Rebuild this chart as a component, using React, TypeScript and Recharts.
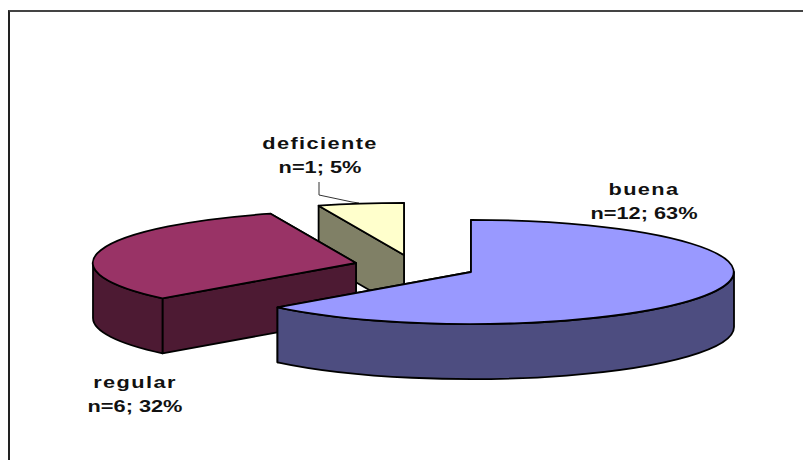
import { PieChart, Pie } from 'recharts';

const categories = ['deficiente', 'regular', 'buena'];
const counts = [1, 6, 12];
const percentLabels = ['n=1; 5%', 'n=6; 32%', 'n=12; 63%'];

const topColors = ['#FFFFCC', '#993366', '#9999FF'];
const wallColors = ['#808066', '#4D1A33', '#4D4D80'];

// how far each slice is pulled off the pie centre
const explodeX = [-67, -115, 0];
const explodeY = [-17, -9, 0];

const labelX = [320, 135, 644];
const labelY = [149, 388, 195];

const tableData = categories.map((name, i) => ({ name, value: counts[i] }));

const SQUASH = 0.198;
const DEPTH = 55;
const RAD = Math.PI / 180;
const TEXT_STRETCH = 1.28;

const pt = (cx: number, cy: number, r: number, angle: number, drop = 0) =>
  `${(cx + r * Math.cos(angle * RAD)).toFixed(1)} ${(cy - r * SQUASH * Math.sin(angle * RAD) + drop).toFixed(1)}`;

// Slice as a tilted disc: cut faces, front rim, then the flat top
const Slice3D = (props: any) => {
  const { cx, cy, outerRadius: r, startAngle, endAngle, index } = props;
  const x = cx + explodeX[index];
  const y = cy + explodeY[index];
  const rx = r;
  const ry = r * SQUASH;
  const a0 = Math.min(startAngle, endAngle);
  const a1 = Math.max(startAngle, endAngle);
  const large = a1 - a0 > 180 ? 1 : 0;
  const wall = wallColors[index];

  const walls: string[] = [];
  // cut faces from the centre out to each radius end
  [a0, a1].forEach((a) => {
    walls.push(`M${pt(x, y, 0, a)} L${pt(x, y, r, a)} L${pt(x, y, r, a, DEPTH)} L${pt(x, y, 0, a, DEPTH)} Z`);
  });
  // the rim only shows on the front half, angles 180 to 360
  for (const k of [0, 360]) {
    const f0 = Math.max(a0, 180 + k);
    const f1 = Math.min(a1, 360 + k);
    if (f1 > f0) {
      walls.push(
        `M${pt(x, y, r, f0)} A${rx} ${ry} 0 0 0 ${pt(x, y, r, f1)} L${pt(x, y, r, f1, DEPTH)} A${rx} ${ry} 0 0 1 ${pt(x, y, r, f0, DEPTH)} Z`
      );
    }
  }

  return (
    <g>
      {walls.map((d, i) => (
        <path key={i} d={d} fill={wall} stroke="#000" strokeWidth={1.8} strokeLinejoin="round" />
      ))}
      <path
        d={`M${pt(x, y, 0, a0)} L${pt(x, y, r, a0)} A${rx} ${ry} 0 ${large} 0 ${pt(x, y, r, a1)} Z`}
        fill={topColors[index]}
        stroke="#000"
        strokeWidth={1.8}
        strokeLinejoin="round"
      />
    </g>
  );
};

// labels are wide bold type, so the text is stretched sideways around its anchor
const SliceLabel = ({ index }: any) => (
  <text
    transform={`translate(${labelX[index]} ${labelY[index]}) scale(${TEXT_STRETCH} 1)`}
    textAnchor="middle"
    fontFamily="'Liberation Sans', Arial, sans-serif"
    fontWeight={700}
    fontSize={17}
    fill="#111"
  >
    <tspan x={0} letterSpacing={1.1}>{categories[index]}</tspan>
    <tspan x={0} dy={24}>{percentLabels[index]}</tspan>
  </text>
);

export default function App() {
  return (
    <div style={{ position: 'absolute', left: 0, top: 0, width: 803, height: 460, background: '#fff' }}>
      <div style={{ position: 'absolute', left: 8, top: 10, right: 0, bottom: 0, borderLeft: '2px solid #222', borderTop: '2px solid #444' }} />
      <PieChart width={803} height={460} margin={{ top: 0, right: 0, bottom: 0, left: 0 }} style={{ position: 'absolute', left: 0, top: 0 }}>
        <Pie
          data={tableData}
          dataKey="value"
          cx={471}
          cy={272}
          outerRadius={263}
          startAngle={90}
          endAngle={450}
          paddingAngle={0}
          shape={Slice3D}
          label={SliceLabel}
          labelLine={false}
          isAnimationActive={false}
        />
        {/* leader from the deficiente label to its slice */}
        <polyline points="319,182 319,195 352,202 359,203" fill="none" stroke="#333" strokeWidth={1} />
      </PieChart>
    </div>
  );
}
